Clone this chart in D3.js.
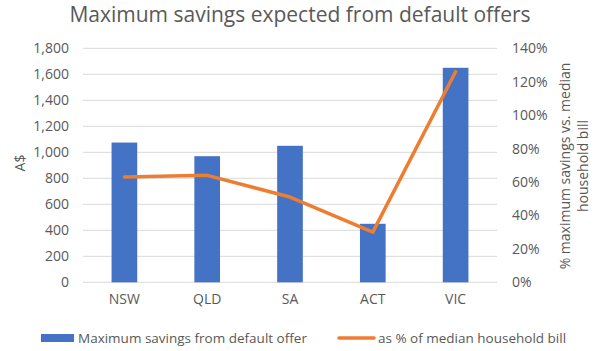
<!DOCTYPE html>
<html>
<head>
<meta charset="utf-8">
<script src="https://cdn.jsdelivr.net/npm/d3@7"></script>
<style>
  body { margin: 0; background: #fff; }
  text { font-family: "Open Sans", sans-serif; fill: #595959; }
</style>
</head>
<body>
<div id="chart"></div>
<script>
// data
var states = ["NSW", "QLD", "SA", "ACT", "VIC"];
var savings = [1075, 970, 1050, 450, 1650];          // A$
var pctOfBill = [0.63, 0.64, 0.51, 0.30, 1.26];     // share of median bill
var leftTicks = [0, 200, 400, 600, 800, 1000, 1200, 1400, 1600, 1800];
var rightTicks = [0, 0.2, 0.4, 0.6, 0.8, 1.0, 1.2, 1.4];

var W = 600, H = 351;
var plot = {left: 83, right: 497, top: 48.3, bottom: 282.3};

var svg = d3.select("#chart").append("svg")
    .attr("width", W)
    .attr("height", H);

var x = d3.scaleBand()
    .domain(states)
    .range([plot.left, plot.right])
    .paddingInner(0.69)
    .paddingOuter(0.345);

var y = d3.scaleLinear().domain([0, 1800]).range([plot.bottom, plot.top]);
var y2 = d3.scaleLinear().domain([0, 1.4]).range([plot.bottom, plot.top]);

// gridlines
svg.append("g")
    .selectAll("line")
    .data(leftTicks)
    .enter().append("line")
    .attr("x1", plot.left)
    .attr("x2", plot.right)
    .attr("y1", d => y(d))
    .attr("y2", d => y(d))
    .attr("stroke", "#d9d9d9")
    .attr("stroke-width", 1);

// left axis labels
svg.append("g")
    .attr("transform", "translate(" + (plot.left - 14) + ",0)")
    .call(d3.axisLeft(y).tickValues(leftTicks).tickSize(0).tickPadding(0).tickFormat(d3.format(",")))
    .call(g => g.select(".domain").remove())
    .selectAll("text")
    .attr("font-size", 14)
    .attr("font-family", "Open Sans")
    .attr("fill", "#595959");

// right axis labels
svg.append("g")
    .attr("transform", "translate(" + (plot.right + 15) + ",0)")
    .call(d3.axisRight(y2).tickValues(rightTicks).tickSize(0).tickPadding(0).tickFormat(d3.format(".0%")))
    .call(g => g.select(".domain").remove())
    .selectAll("text")
    .attr("font-size", 14)
    .attr("font-family", "Open Sans")
    .attr("fill", "#595959");

// category axis
svg.append("g")
    .attr("transform", "translate(0," + (plot.bottom + 12) + ")")
    .call(d3.axisBottom(x).tickSize(0).tickPadding(0))
    .call(g => g.select(".domain").remove())
    .selectAll("text")
    .attr("dy", "0.71em")
    .attr("font-size", 14)
    .attr("font-family", "Open Sans")
    .attr("fill", "#595959");

// bars
svg.append("g")
    .selectAll("rect")
    .data(savings)
    .enter().append("rect")
    .attr("x", (d, i) => x(states[i]))
    .attr("width", x.bandwidth())
    .attr("y", d => y(d))
    .attr("height", d => y(0) - y(d))
    .attr("fill", "#4472c4");

// line
svg.append("path")
    .datum(pctOfBill)
    .attr("fill", "none")
    .attr("stroke", "#ed7d31")
    .attr("stroke-width", 3.5)
    .attr("stroke-linejoin", "round")
    .attr("stroke-linecap", "round")
    .attr("d", d3.line()
        .x((d, i) => x(states[i]) + x.bandwidth() / 2)
        .y(d => y2(d)));

// title
svg.append("text")
    .attr("x", 300)
    .attr("y", 22)
    .attr("text-anchor", "middle")
    .attr("font-size", 21)
    .text("Maximum savings expected from default offers");

// axis titles
svg.append("text")
    .attr("transform", "translate(25,163) rotate(-90)")
    .attr("text-anchor", "middle")
    .attr("font-size", 14)
    .text("A$");

svg.append("text")
    .attr("transform", "translate(570,166) rotate(-90)")
    .attr("text-anchor", "middle")
    .attr("font-size", 14)
    .text("% maximum savings vs. median");

svg.append("text")
    .attr("transform", "translate(588,166) rotate(-90)")
    .attr("text-anchor", "middle")
    .attr("font-size", 14)
    .text("household bill");

// legend
var legend = svg.append("g").attr("class", "legend");
legend.append("rect")
    .attr("x", 41).attr("y", 334)
    .attr("width", 33).attr("height", 8)
    .attr("fill", "#4472c4");
legend.append("text")
    .attr("x", 78).attr("y", 343)
    .attr("font-size", 13.5)
    .text("Maximum savings from default offer");
legend.append("line")
    .attr("x1", 339).attr("x2", 374)
    .attr("y1", 338).attr("y2", 338)
    .attr("stroke", "#ed7d31")
    .attr("stroke-width", 3.5)
    .attr("stroke-linecap", "round");
legend.append("text")
    .attr("x", 378).attr("y", 343)
    .attr("font-size", 13.5)
    .text("as % of median household bill");
</script>
</body>
</html>
